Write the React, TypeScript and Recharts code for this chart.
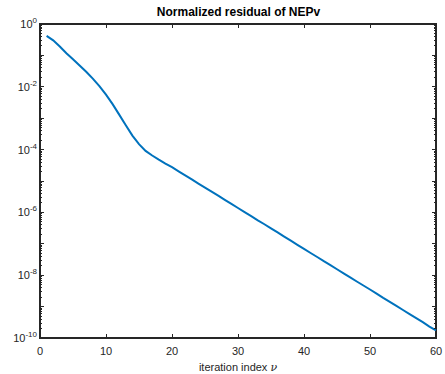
import { LineChart, Line, XAxis, YAxis, ReferenceArea } from 'recharts';

// iteration index
const iterations: number[] = [
  1, 2, 3, 4, 5, 6, 7, 8, 9, 10,
  11, 12, 13, 14, 15, 16, 17, 18, 19, 20,
  21, 22, 23, 24, 25, 26, 27, 28, 29, 30,
  31, 32, 33, 34, 35, 36, 37, 38, 39, 40,
  41, 42, 43, 44, 45, 46, 47, 48, 49, 50,
  51, 52, 53, 54, 55, 56, 57, 58, 59, 60,
];

// normalized residual
const residuals: number[] = [
  4.17e-1, 3.02e-1, 1.91e-1, 1.17e-1, 7.59e-2, 4.79e-2, 3.02e-2, 1.82e-2, 1.05e-2, 5.6e-3,
  2.8e-3, 1.3e-3, 6.0e-4, 2.8e-4, 1.5e-4, 9.1e-5, 6.5e-5, 4.8e-5, 3.6e-5, 2.75e-5,
  2.04e-5, 1.51e-5, 1.12e-5, 8.3e-6, 6.2e-6, 4.6e-6, 3.4e-6, 2.5e-6, 1.86e-6, 1.38e-6,
  1.02e-6, 7.6e-7, 5.6e-7, 4.2e-7, 3.1e-7, 2.3e-7, 1.7e-7, 1.26e-7, 9.3e-8, 6.9e-8,
  5.1e-8, 3.8e-8, 2.8e-8, 2.1e-8, 1.55e-8, 1.15e-8, 8.5e-9, 6.3e-9, 4.7e-9, 3.5e-9,
  2.6e-9, 1.9e-9, 1.41e-9, 1.05e-9, 7.8e-10, 5.8e-10, 4.3e-10, 3.2e-10, 2.3e-10, 1.74e-10,
];

const xTicks: number[] = [0, 10, 20, 30, 40, 50, 60];
const xDomain: [number, number] = [0, 60];
const yDomain: [number, number] = [1e-10, 1];
const decades: number[] = [-10, -9, -8, -7, -6, -5, -4, -3, -2, -1, 0];
const labelledDecades: number[] = [-10, -8, -6, -4, -2, 0];
const minorSteps: number[] = [2, 3, 4, 5, 6, 7, 8, 9];

const data = iterations.map((it, i) => ({ it, r: residuals[i] }));

const yTicks: number[] = [];
decades.forEach((d) => {
  yTicks.push(Math.pow(10, d));
  if (d < 0) minorSteps.forEach((m) => yTicks.push(m * Math.pow(10, d)));
});

const AXIS = '#262626';
const FONT = '"Liberation Sans", Arial, Helvetica, sans-serif';

const decadeOf = (v: number) => {
  const e = Math.round(Math.log10(v));
  const major = Math.abs(v - Math.pow(10, e)) < 1e-6 * Math.pow(10, e);
  return { e, major };
};

const LeftTick = (props: any) => {
  const { x, y, payload } = props;
  const { e, major } = decadeOf(payload.value);
  return (
    <g>
      <line x1={x} x2={x + (major ? 4 : 2)} y1={y} y2={y} stroke={AXIS} strokeWidth={1} shapeRendering="crispEdges" />
      {major && labelledDecades.includes(e) && (
        <text x={x - 3} y={y + 4} textAnchor="end" fontSize={11} fill={AXIS} fontFamily={FONT}>
          10<tspan dy={-5} fontSize={8}>{e}</tspan>
        </text>
      )}
    </g>
  );
};

const RightTick = (props: any) => {
  const { x, y, payload } = props;
  const { major } = decadeOf(payload.value);
  return <line x1={x} x2={x - (major ? 4 : 2)} y1={y} y2={y} stroke={AXIS} strokeWidth={1} shapeRendering="crispEdges" />;
};

const BottomTick = (props: any) => {
  const { x, y, payload } = props;
  return (
    <g>
      <line x1={x} x2={x} y1={y} y2={y - 4} stroke={AXIS} strokeWidth={1} shapeRendering="crispEdges" />
      <text x={x} y={y + 17} textAnchor="middle" fontSize={11} fill={AXIS} fontFamily={FONT}>
        {payload.value}
      </text>
    </g>
  );
};

const TopTick = (props: any) => {
  const { x, y } = props;
  return <line x1={x} x2={x} y1={y} y2={y + 4} stroke={AXIS} strokeWidth={1} shapeRendering="crispEdges" />;
};

const XLabel = (props: any) => {
  const { viewBox } = props;
  return (
    <text
      x={viewBox.x + viewBox.width / 2}
      y={viewBox.y + viewBox.height - 3}
      textAnchor="middle"
      fontSize={11}
      fill={AXIS}
      fontFamily={FONT}
    >
      iteration index <tspan fontStyle="italic" fontFamily='"DejaVu Serif", serif'>ν</tspan>
    </text>
  );
};

export default function App() {
  return (
    <div style={{ position: 'relative', width: 445, height: 374, background: '#fff' }}>
      <style>{'body{margin:0}'}</style>
      <div
        style={{
          position: 'absolute',
          left: 40,
          width: 397,
          top: 5,
          textAlign: 'center',
          fontFamily: FONT,
          fontWeight: 'bold',
          fontSize: 12,
          color: '#000',
          lineHeight: '14px',
        }}
      >
        Normalized residual of NEPv
      </div>
      <LineChart width={445} height={374} data={data} margin={{ top: 23, right: 8, bottom: 0, left: 0 }}>
        <XAxis
          xAxisId="b"
          dataKey="it"
          type="number"
          domain={xDomain}
          ticks={xTicks}
          interval={0}
          height={36}
          tickSize={0}
          tickMargin={0}
          tick={<BottomTick />}
          axisLine={false}
          label={<XLabel />}
        />
        <XAxis
          xAxisId="t"
          orientation="top"
          dataKey="it"
          type="number"
          domain={xDomain}
          ticks={xTicks}
          interval={0}
          height={1}
          tickSize={0}
          tickMargin={0}
          tick={<TopTick />}
          axisLine={false}
        />
        <YAxis
          yAxisId="l"
          type="number"
          scale="log"
          domain={yDomain}
          allowDataOverflow
          ticks={yTicks}
          interval={0}
          width={40}
          tickSize={0}
          tickMargin={0}
          tick={<LeftTick />}
          axisLine={false}
        />
        <YAxis
          yAxisId="r"
          orientation="right"
          type="number"
          scale="log"
          domain={yDomain}
          allowDataOverflow
          ticks={yTicks}
          interval={0}
          width={1}
          tickSize={0}
          tickMargin={0}
          tick={<RightTick />}
          axisLine={false}
        />
        <ReferenceArea
          xAxisId="b"
          yAxisId="l"
          x1={xDomain[0]}
          x2={xDomain[1]}
          y1={yDomain[0]}
          y2={yDomain[1]}
          fill="none"
          stroke={AXIS}
          strokeWidth={1.2}
          shapeRendering="crispEdges"
          ifOverflow="visible"
        />
        <Line
          xAxisId="b"
          yAxisId="l"
          dataKey="r"
          type="linear"
          stroke="#0072BD"
          strokeWidth={2}
          dot={false}
          isAnimationActive={false}
        />
      </LineChart>
    </div>
  );
}
